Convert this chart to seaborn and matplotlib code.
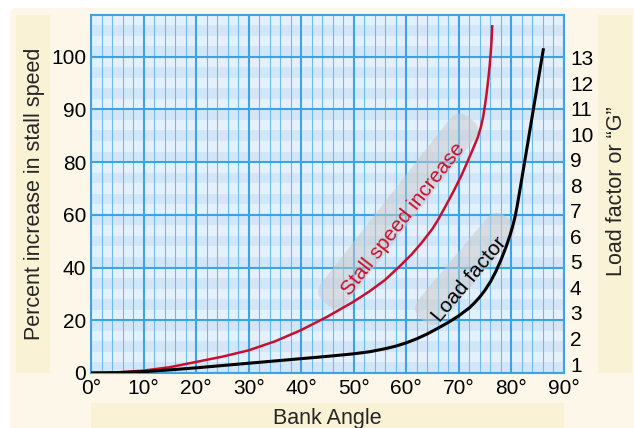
import numpy as np
import pandas as pd
import matplotlib
matplotlib.use("Agg")
import matplotlib.pyplot as plt
import seaborn as sns
from matplotlib.patches import FancyBboxPatch
from matplotlib.ticker import MultipleLocator, FixedLocator
from matplotlib.transforms import Affine2D, IdentityTransform

# ---------------- data ----------------
bank_red = [0, 5, 10, 15, 20, 25, 30, 35, 40, 45, 50, 53, 56, 59, 61, 63,
            65, 66, 67.5, 69, 70.5, 71.6, 72.6, 73.6, 74.2, 74.6, 75.0,
            75.3, 75.6, 75.85, 76.05, 76.2, 76.35]
stall_pct = [0, 0.24, 0.9, 2.2, 4.2, 6.2, 8.6, 12.0, 16.3, 21.4, 27.1, 31.0,
             35.4, 41.0, 45.0, 49.6, 54.8, 58.0, 63.4, 69.0, 75.0, 80.0,
             82.3, 84.7, 86.7, 88.5, 91.0, 93.2, 95.8, 98.2, 100.6, 102.8,
             106.0]

bank_black = [0, 5, 10, 15, 20, 25, 30, 35, 40, 45, 50, 53, 56, 58, 60, 62,
              64, 66, 68, 70, 72, 73, 74, 75, 76, 77, 78, 79, 79.7, 80.3,
              80.7, 81.1, 81.6, 82.4, 83, 84, 85, 86.1]
load_factor = [0.65, 0.66, 0.70, 0.77, 0.85, 0.94, 1.03, 1.12, 1.21, 1.30,
               1.40, 1.48, 1.60, 1.70, 1.83, 1.99, 2.18, 2.40, 2.63, 2.89,
               3.20, 3.40, 3.63, 3.90, 4.22, 4.61, 5.07, 5.60, 6.02, 6.44,
               6.78, 7.20, 7.80, 8.78, 9.52, 10.76, 12.00, 13.36]

x_ticks = [0, 10, 20, 30, 40, 50, 60, 70, 80, 90]
x_labels = [f"{d}°" for d in x_ticks]
left_ticks = [0, 20, 40, 60, 80, 90, 100]
right_ticks = list(range(1, 14))

# ---------------- style ----------------
W, H = 634, 428
CREAM = "#FCF7E9"
PANEL = "#F9F2D5"
BG_LIGHT = "#E4F0FC"
BG_DARK = "#D3E6F8"
MAJOR = "#3AA5E6"
MINOR = "#6CBDEF"
RED = "#C8102E"

sns.set_style("white")
plt.rcParams["font.family"] = ["Liberation Sans", "DejaVu Sans"]

fig = plt.figure(figsize=(W / 100, H / 100), dpi=100)
fig.patch.set_facecolor("white")

def px_box(x0, y0, x1, y1, color, rounding=0.0):
    """Rectangle in image pixel coords (y down)."""
    p = FancyBboxPatch((x0, H - y1), x1 - x0, y1 - y0,
                       boxstyle=f"round,pad=0,rounding_size={rounding}",
                       transform=IdentityTransform(), facecolor=color,
                       edgecolor="none", zorder=-5)
    fig.add_artist(p)

px_box(10, 8, 660, 460, CREAM, rounding=6)
px_box(16, 15, 50, 373, PANEL)
px_box(598, 15, 632, 373, PANEL)
px_box(91, 403, 564, 440, PANEL)

ax = fig.add_axes([91 / W, 55 / H, 473 / W, 358 / H])
ax.set_facecolor(BG_LIGHT)

# piecewise-linear left scale (0,20,40,60,80,90,100 evenly spaced)
sv = np.array([-20, 0, 20, 40, 60, 80, 90, 100, 110, 120], dtype=float)
si = np.array([-1, 0, 1, 2, 3, 4, 5, 6, 7, 8], dtype=float)
fwd = lambda v: np.interp(v, sv, si)
inv = lambda k: np.interp(k, si, sv)
ax.set_yscale("function", functions=(fwd, inv))
ax.set_xlim(0, 90)
ax.set_ylim(0, inv(6.79))

# horizontal shading bands (alternate every 1/5 of a major step)
for j in range(0, 34):
    if j % 2 == 0:
        ax.axhspan(inv(j * 0.2), inv(min(j * 0.2 + 0.2, 6.79)),
                   color=BG_DARK, lw=0, zorder=0.1)

ax.set_xticks(x_ticks)
ax.set_xticklabels(x_labels)
ax.xaxis.set_minor_locator(MultipleLocator(2))
ax.yaxis.set_major_locator(FixedLocator(left_ticks))
ax.yaxis.set_minor_locator(FixedLocator([]))
ax.set_yticklabels([str(t) for t in left_ticks])
ax.set_axisbelow(True)
ax.grid(which="major", axis="both", color=MAJOR, lw=1.5)
ax.grid(which="minor", axis="x", color=MINOR, lw=0.8)
ax.tick_params(which="both", length=0, labelsize=15, colors="black")
ax.tick_params(axis="y", pad=3.5)
ax.tick_params(axis="x", pad=4.5)
for s in ax.spines.values():
    s.set_color(MAJOR)
    s.set_linewidth(1.5)

# decorative gray bands behind curve labels (display pixel coords)
def band(cx, cy, length, width, angle):
    tr = Affine2D().rotate_deg(angle).translate(cx, H - cy) + IdentityTransform()
    p = FancyBboxPatch((-length / 2, -width / 2), length, width,
                       boxstyle=f"round,pad=0,rounding_size={width/2.2}",
                       transform=tr, facecolor="#C9C9C9", alpha=0.5,
                       edgecolor="none", zorder=1.5)
    ax.add_artist(p)

band(398, 211, 235, 32, 52)
band(465, 269, 133, 32, 50)

sns.lineplot(x=bank_red, y=stall_pct, ax=ax, color=RED, lw=1.8,
             sort=False, estimator=None, zorder=3)
for ln in ax.lines:
    ln.set_solid_capstyle("butt")
    ln.set_solid_joinstyle("round")

ax.text((403.3 - 91) / 473, (373 - 219.2) / 358, "Stall speed increase",
        transform=ax.transAxes, rotation=52, rotation_mode="anchor",
        ha="center", va="center", color=RED, fontsize=15, zorder=2.5)
ax.text((469 - 91) / 473, (373 - 279) / 358, "Load factor",
        transform=ax.transAxes, rotation=50, rotation_mode="anchor",
        ha="center", va="center", color="black", fontsize=15, zorder=2.5)

ax2 = ax.twinx()
sns.lineplot(x=bank_black, y=load_factor, ax=ax2, color="black", lw=2.2,
             sort=False, estimator=None)
for ln in ax2.lines:
    ln.set_solid_capstyle("butt")
    ln.set_solid_joinstyle("round")
ax2.set_ylim(0.648, 14.664)
ax2.set_xlim(0, 90)
ax2.set_yticks(right_ticks)
ax2.set_yticklabels([str(t) for t in right_ticks])
ax2.tick_params(length=0, labelsize=15, pad=4.3, colors="black")
ax2.grid(False)
for s in ax2.spines.values():
    s.set_visible(False)
ax2.set_ylabel("")
ax.set_xlabel("")
ax.set_ylabel("")

# axis titles in their panels
fig.text(40 / W, (H - 193.5) / H, "Percent increase in stall speed",
         rotation=90, rotation_mode="anchor", ha="center", va="baseline",
         fontsize=15.5)
fig.text(622 / W, (H - 191) / H, "Load factor or \u201cG\u201d",
         rotation=90, rotation_mode="anchor", ha="center", va="baseline",
         fontsize=15.5)
fig.text(327.5 / W, (H - 424) / H, "Bank Angle", ha="center", va="baseline",
         fontsize=15.5)

fig.savefig("out.png", dpi=100)
